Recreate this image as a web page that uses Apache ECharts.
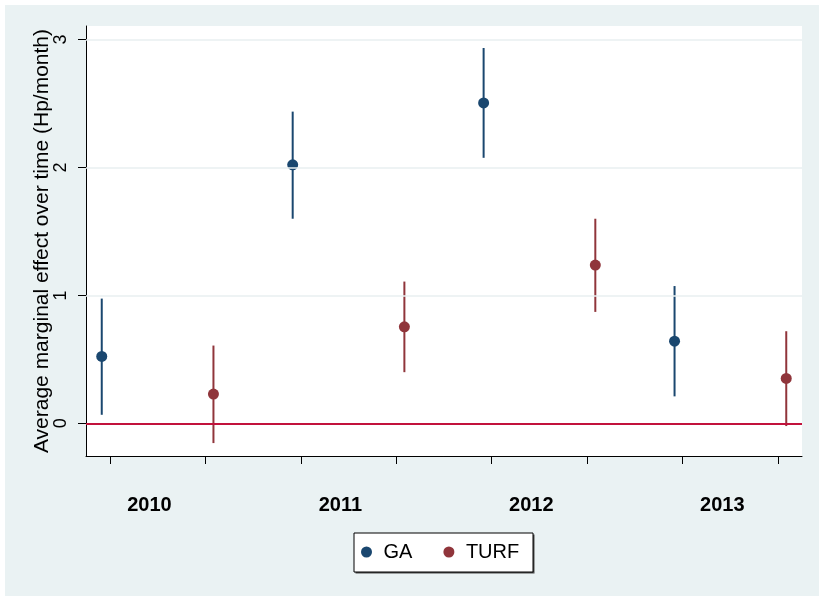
<!DOCTYPE html>
<html>
<head>
<meta charset="utf-8">
<script src="https://cdn.jsdelivr.net/npm/echarts@6/dist/echarts.min.js"></script>
<style>
  html, body { margin: 0; padding: 0; background: #ffffff; }
  #chart { width: 819px; height: 596px; }
</style>
</head>
<body>
<div id="chart"></div>
<script>
// Years shown under the axis; each year holds a GA and a TURF estimate
const years = ['2010', '2011', '2012', '2013'];

// Average marginal effects with 95% confidence bounds
const gaEst  = [0.523, 2.020, 2.504, 0.642];
const gaLo   = [0.067, 1.599, 2.075, 0.211];
const gaHi   = [0.975, 2.436, 2.933, 1.073];

const turfEst = [0.229, 0.754, 1.237, 0.351];
const turfLo  = [-0.154, 0.400, 0.871, -0.021];
const turfHi  = [0.608, 1.108, 1.599, 0.720];

const yTicks = [0, 1, 2, 3];

const GA_COLOR = '#1a476f';
const TURF_COLOR = '#90353b';
const FONT = '"Liberation Sans", Arial, Helvetica, sans-serif';

// Each year occupies two slots on the x scale: GA in the first, TURF in the second
const shift = 0.085;
const gaPos = years.map((_, i) => 2 * i + 1 - shift);
const turfPos = years.map((_, i) => 2 * i + 2 + shift);
const yearLabelPos = years.map((_, i) => 2 * i + 1.5 - shift);
const slotTicks = [];
for (let k = 1; k <= years.length * 2; k++) slotTicks.push(k);

function ciData(pos, lo, hi) {
  return pos.map((x, i) => [x, lo[i], hi[i]]);
}
function pointData(pos, est) {
  return pos.map((x, i) => [x, est[i]]);
}
function ciRenderer(color) {
  return function (params, api) {
    const a = api.coord([api.value(0), api.value(1)]);
    const b = api.coord([api.value(0), api.value(2)]);
    return {
      type: 'line',
      shape: { x1: a[0], y1: a[1], x2: b[0], y2: b[1] },
      style: { stroke: color, lineWidth: 2 }
    };
  };
}

const chart = echarts.init(document.getElementById('chart'), null, { renderer: 'canvas' });

chart.setOption({
  animation: false,
  backgroundColor: '#ffffff',
  textStyle: { fontFamily: FONT },
  graphic: [
    { type: 'rect', z: -10, shape: { x: 5, y: 5, width: 814, height: 591 }, style: { fill: '#eaf2f3' } },
    { type: 'rect', z: 1, shape: { x: 355.5, y: 534.5, width: 179, height: 39 }, style: { fill: '#4a4a4a' } },
    { type: 'rect', z: 2, shape: { x: 354, y: 533, width: 179, height: 39 }, style: { fill: '#ffffff', stroke: '#000000', lineWidth: 1 } }
  ],
  grid: {
    left: 86, top: 26, width: 716, height: 430,
    show: true, backgroundColor: '#ffffff', borderWidth: 0
  },
  legend: {
    z: 5,
    left: 361, top: 542,
    padding: 0,
    itemWidth: 24, itemHeight: 11, itemGap: 31,
    icon: 'circle',
    data: ['GA', 'TURF'],
    itemStyle: { opacity: 1 },
    textStyle: { fontSize: 20, color: '#000000', fontFamily: FONT }
  },
  xAxis: {
    type: 'value',
    min: 0.75, max: 8.25,
    axisLine: { show: true, onZero: false, lineStyle: { color: '#000000', width: 1 } },
    axisTick: { show: true, length: 8, customValues: slotTicks, lineStyle: { color: '#000000', width: 1 } },
    axisLabel: {
      customValues: yearLabelPos,
      margin: 39,
      fontSize: 20, fontWeight: 'bold', color: '#000000', fontFamily: FONT,
      formatter: function (v) {
        const i = yearLabelPos.findIndex(p => Math.abs(p - v) < 1e-6);
        return i >= 0 ? years[i] : '';
      }
    },
    splitLine: { show: false }
  },
  yAxis: {
    type: 'value',
    min: -0.255, max: 3.105,
    name: 'Average marginal effect over time (Hp/month)',
    nameLocation: 'middle',
    nameRotate: 90,
    nameGap: 33,
    nameMoveOverlap: false,
    nameTextStyle: { fontSize: 21, color: '#000000', fontFamily: FONT },
    axisLine: { show: true, onZero: false, lineStyle: { color: '#000000', width: 1 } },
    axisTick: { show: true, length: 8, customValues: yTicks, lineStyle: { color: '#000000', width: 1 } },
    axisLabel: {
      customValues: yTicks,
      rotate: 90,
      margin: 16,
      fontSize: 18, color: '#000000', fontFamily: FONT
    },
    splitLine: { show: false }
  },
  series: [
    {
      name: 'reference lines',
      type: 'line',
      data: [],
      silent: true,
      z: 1,
      markLine: {
        silent: true,
        symbol: 'none',
        label: { show: false },
        animation: false,
        data: [
          { yAxis: 1, lineStyle: { color: '#e8eff1', width: 1.5, type: 'solid' } },
          { yAxis: 2, lineStyle: { color: '#e8eff1', width: 1.5, type: 'solid' } },
          { yAxis: 3, lineStyle: { color: '#e8eff1', width: 1.5, type: 'solid' } },
          { yAxis: 0, lineStyle: { color: '#c2123c', width: 1.8, type: 'solid' } }
        ]
      }
    },
    {
      name: 'GA interval',
      type: 'custom',
      z: 3,
      silent: true,
      renderItem: ciRenderer(GA_COLOR),
      encode: { x: 0, y: [1, 2] },
      data: ciData(gaPos, gaLo, gaHi)
    },
    {
      name: 'TURF interval',
      type: 'custom',
      z: 3,
      silent: true,
      renderItem: ciRenderer(TURF_COLOR),
      encode: { x: 0, y: [1, 2] },
      data: ciData(turfPos, turfLo, turfHi)
    },
    {
      name: 'GA',
      type: 'scatter',
      z: 4,
      symbol: 'circle',
      symbolSize: 11,
      itemStyle: { color: GA_COLOR, opacity: 1 },
      data: pointData(gaPos, gaEst)
    },
    {
      name: 'TURF',
      type: 'scatter',
      z: 4,
      symbol: 'circle',
      symbolSize: 11,
      itemStyle: { color: TURF_COLOR, opacity: 1 },
      data: pointData(turfPos, turfEst)
    }
  ]
});
</script>
</body>
</html>
